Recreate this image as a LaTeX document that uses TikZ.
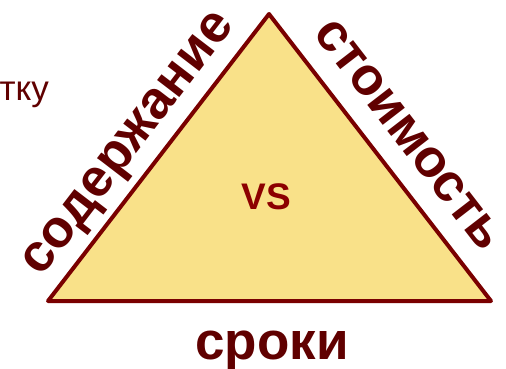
\documentclass[tikz,border=0pt]{standalone}
\usepackage{fontspec}
\setmainfont{Liberation Sans}
\definecolor{edgered}{RGB}{122,0,0}
\definecolor{textred}{RGB}{96,0,0}
\definecolor{vsred}{RGB}{140,0,0}
\definecolor{fillyellow}{RGB}{249,225,137}
\tikzset{
  sidelabel/.style={text=textred, font=\bfseries\fontsize{53}{60}\selectfont, inner sep=0pt, anchor=base},
  tri/.style={draw=edgered, fill=fillyellow, line width=4pt, line join=round}
}
\begin{document}
\begin{tikzpicture}[x=1pt,y=-1pt]
\useasboundingbox (0,0) rectangle (506,368);
\coordinate (top) at (269,14);
\coordinate (bl) at (48,301);
\coordinate (br) at (491,301);
\draw[tri] (top) -- (bl) -- (br) -- cycle;
\node[sidelabel, rotate=52.5] (content) at (138.5,151.5) {содержание};
\node[sidelabel, rotate=-52.3] (cost) at (397.5,143.5) {стоимость};
\node[sidelabel] (time) at (272,359) {сроки};
\node[text=vsred, font=\bfseries\fontsize{37}{44}\selectfont, inner sep=0pt, anchor=base] (vs) at (266.5,209) {VS};
\node[text=textred, font=\fontsize{35}{40}\selectfont, inner sep=0pt, anchor=base east] (cut) at (49,100) {тку};
\end{tikzpicture}
\end{document}
